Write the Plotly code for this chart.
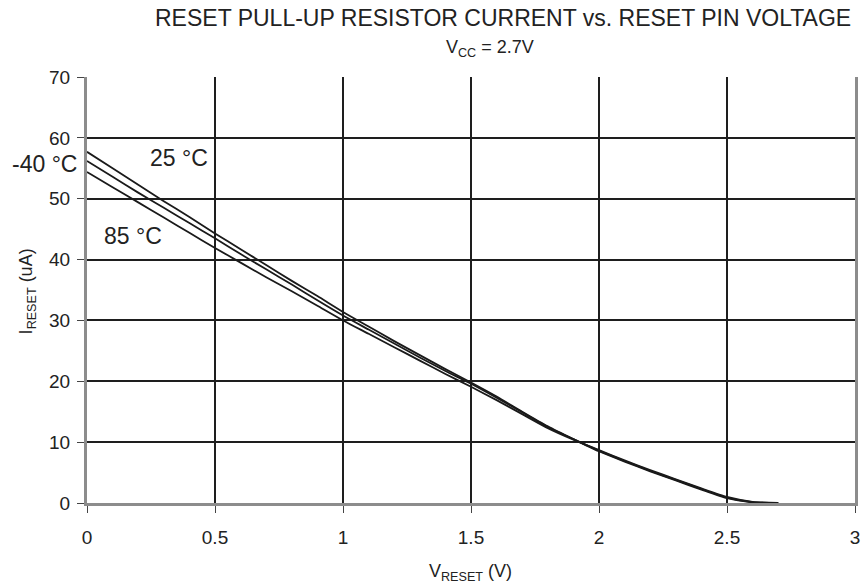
import plotly.graph_objects as go

# Reset pin voltage (V)
v_reset = [0.0, 0.1, 0.2, 0.3, 0.4, 0.5, 0.6, 0.7, 0.8, 0.9, 1.0, 1.1, 1.2, 1.3,
           1.4, 1.5, 1.6, 1.7, 1.8, 1.9, 2.0, 2.1, 2.2, 2.3, 2.4, 2.5, 2.6, 2.7]

# Pull-up current (uA) per temperature
i_25 = [57.7, 55.0, 52.3, 49.6, 47.0, 44.3, 41.7, 39.1, 36.5, 34.0, 31.4, 29.0, 26.6, 24.3,
        22.0, 19.8, 17.5, 15.0, 12.6, 10.5, 8.5, 6.8, 5.2, 3.7, 2.2, 0.8, 0.1, 0.0]
i_m40 = [56.2, 53.6, 51.0, 48.5, 46.0, 43.5, 40.9, 38.4, 35.9, 33.3, 30.8, 28.5, 26.2, 23.9,
         21.7, 19.6, 17.3, 14.9, 12.5, 10.5, 8.6, 6.9, 5.3, 3.8, 2.3, 0.9, 0.15, 0.0]
i_85 = [54.4, 51.9, 49.4, 46.9, 44.4, 41.9, 39.5, 37.1, 34.8, 32.4, 30.0, 27.8, 25.6, 23.4,
        21.2, 19.1, 16.9, 14.6, 12.3, 10.4, 8.7, 7.0, 5.4, 3.9, 2.4, 1.0, 0.2, 0.0]

x_ticks = [0, 0.5, 1, 1.5, 2, 2.5, 3]
x_tick_text = ["0", "0.5", "1", "1.5", "2", "2.5", "3"]
y_ticks = [0, 10, 20, 30, 40, 50, 60, 70]

FONT = "Liberation Sans, Arial, sans-serif"
TEXT = "#222222"

# plot area in pixels: left 87, right 860, top 77, bottom 503
PL, PR, PT, PB = 87, 860, 77, 503
PW, PH = PR - PL, PB - PT


def px_x(px):
    return (px - PL) / PW


def px_y(py):
    return (PB - py) / PH


fig = go.Figure()
for name, ys in [("25 °C", i_25), ("-40 °C", i_m40), ("85 °C", i_85)]:
    fig.add_trace(go.Scatter(x=v_reset, y=ys, mode="lines", name=name,
                             line=dict(color="#1a1a1a", width=1.8, shape="spline",
                                       smoothing=0.6)))

fig.update_layout(
    width=867, height=588,
    margin=dict(l=PL, r=867 - PR, t=PT, b=588 - PB),
    paper_bgcolor="white", plot_bgcolor="white",
    showlegend=False,
    font=dict(family=FONT, color=TEXT, size=18),
)

fig.update_xaxes(
    range=[0, 3], tickvals=x_ticks, ticktext=x_tick_text,
    showgrid=True, gridcolor="#1e1e1e", gridwidth=2,
    showline=True, linecolor="#8c8c8c", linewidth=3, mirror=False,
    ticks="outside", ticklen=7, tickcolor="#444444", tickwidth=1,
    tickfont=dict(size=19, family=FONT, color=TEXT),
    ticklabelstandoff=8,
    zeroline=False,
)
fig.update_yaxes(
    range=[0, 70], tickvals=y_ticks,
    showgrid=True, gridcolor="#1e1e1e", gridwidth=2,
    showline=True, linecolor="#8c8c8c", linewidth=3, mirror=True,
    ticks="outside", ticklen=7, tickcolor="#444444", tickwidth=1,
    tickfont=dict(size=19, family=FONT, color=TEXT),
    ticklabelstandoff=3,
    zeroline=False,
)

# Titles and curve labels
annotations = [
    dict(text="RESET PULL-UP RESISTOR CURRENT vs. RESET PIN VOLTAGE",
         xref="paper", yref="paper", x=px_x(858), y=px_y(18),
         xanchor="right", yanchor="middle", showarrow=False,
         font=dict(size=23, family=FONT, color=TEXT)),
    dict(text="V<sub>CC</sub> = 2.7V",
         xref="paper", yref="paper", x=px_x(493), y=px_y(49),
         xanchor="center", yanchor="middle", showarrow=False,
         font=dict(size=18, family=FONT, color=TEXT)),
    dict(text="V<sub>RESET</sub> (V)",
         xref="paper", yref="paper", x=px_x(473), y=px_y(572),
         xanchor="center", yanchor="middle", showarrow=False,
         font=dict(size=18, family=FONT, color=TEXT)),
    dict(text="I<sub>RESET</sub> (uA)",
         xref="paper", yref="paper", x=px_x(27), y=px_y(291), textangle=-90,
         xanchor="center", yanchor="middle", showarrow=False,
         font=dict(size=18, family=FONT, color=TEXT)),
    dict(text="-40 °C", xref="paper", yref="paper", x=px_x(44), y=px_y(164),
         xanchor="center", yanchor="middle", showarrow=False,
         font=dict(size=23, family=FONT, color=TEXT)),
    dict(text="25 °C", xref="paper", yref="paper", x=px_x(180), y=px_y(158),
         xanchor="center", yanchor="middle", showarrow=False,
         font=dict(size=23, family=FONT, color=TEXT)),
    dict(text="85 °C", xref="paper", yref="paper", x=px_x(133), y=px_y(236),
         xanchor="center", yanchor="middle", showarrow=False,
         font=dict(size=23, family=FONT, color=TEXT)),
]
fig.update_layout(annotations=annotations)

fig.write_html("out.html")
